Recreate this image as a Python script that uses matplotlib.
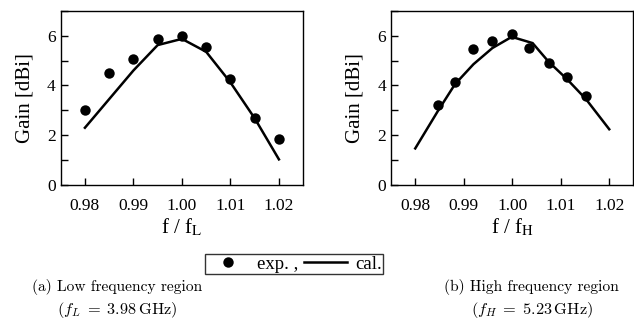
import numpy as np
import matplotlib
matplotlib.use('Agg')
import matplotlib.pyplot as plt
from matplotlib.lines import Line2D
from matplotlib.ticker import MultipleLocator

plt.rcParams['font.family'] = ['Liberation Serif', 'DejaVu Serif']
plt.rcParams['mathtext.fontset'] = 'stix'

# (a) low frequency region
low_exp_x = [0.98, 0.985, 0.99, 0.995, 1.00, 1.005, 1.01, 1.015, 1.02]
low_exp_y = [3.0, 4.5, 5.05, 5.87, 6.0, 5.55, 4.27, 2.71, 1.83]
low_cal_x = [0.98, 0.985, 0.99, 0.995, 1.00, 1.005, 1.01, 1.015, 1.02]
low_cal_y = [2.3, 3.45, 4.6, 5.62, 5.87, 5.35, 4.12, 2.68, 1.03]

# (b) high frequency region
high_exp_x = [0.9846, 0.9882, 0.992, 0.9959, 0.9999, 1.0035, 1.0075, 1.0113, 1.0152]
high_exp_y = [3.2, 4.15, 5.46, 5.8, 6.05, 5.49, 4.91, 4.35, 3.58]
high_cal_x = [0.98, 0.9846, 0.9882, 0.992, 0.9959, 0.9999, 1.0042, 1.0075, 1.0113, 1.0152, 1.02]
high_cal_y = [1.47, 2.95, 4.05, 4.85, 5.5, 5.95, 5.7, 4.95, 4.25, 3.45, 2.24]

xticks = [0.98, 0.99, 1.00, 1.01, 1.02]
xticklabels = ['0.98', '0.99', '1.00', '1.01', '1.02']

fig = plt.figure(figsize=(6.34, 3.33), dpi=100)
ax1 = fig.add_axes([0.0957, 0.4444, 0.3825, 0.5234])
ax2 = fig.add_axes([0.6167, 0.4444, 0.3825, 0.5234])

for ax, ex, ey, cx, cy, sub in [(ax1, low_exp_x, low_exp_y, low_cal_x, low_cal_y, 'L'),
                                (ax2, high_exp_x, high_exp_y, high_cal_x, high_cal_y, 'H')]:
    ax.plot(cx, cy, color='black', lw=1.8, solid_joinstyle='miter')
    ax.plot(ex, ey, 'o', color='black', ms=7.5, mec='none')
    ax.set_xlim(0.975, 1.025)
    ax.set_ylim(0, 7)
    ax.set_xticks(xticks)
    ax.set_xticklabels(xticklabels)
    ax.yaxis.set_major_locator(MultipleLocator(2))
    ax.yaxis.set_minor_locator(MultipleLocator(1))
    ax.tick_params(which='both', direction='in', labelsize=12.5, width=1.0, length=5)
    ax.tick_params(axis='x', pad=9)
    for s in ax.spines.values():
        s.set_linewidth(1.0)
    ax.set_ylabel('Gain [dBi]', fontsize=15, labelpad=9)
    ax.set_xlabel('f / f$_\\mathrm{' + sub + '}$', fontsize=15, labelpad=2)

handles = [Line2D([], [], marker='o', color='black', ls='none', ms=7.5, mec='none'),
           Line2D([], [], color='black', lw=1.8)]
leg = fig.legend(handles, ['exp. ,', 'cal.'], loc='center', bbox_to_anchor=(0.464, 0.206),
                 ncol=2, fontsize=13.5, frameon=True, fancybox=False, edgecolor='black',
                 handlelength=2.3, handletextpad=0.4, columnspacing=0.3,
                 borderpad=0.08, borderaxespad=0)
leg.get_frame().set_linewidth(1.0)

fig.text(0.185, 0.137, '(a) Low frequency region', ha='center', va='center',
         family='cmr10', fontsize=11.2)
fig.text(0.185, 0.068, '$(f_L\\;=\\;3.98\\,\\mathrm{GHz})$', ha='center', va='center',
         math_fontfamily='cm', fontsize=11.8)
fig.text(0.839, 0.137, '(b) High frequency region', ha='center', va='center',
         family='cmr10', fontsize=11.2)
fig.text(0.839, 0.068, '$(f_H\\;=\\;5.23\\,\\mathrm{GHz})$', ha='center', va='center',
         math_fontfamily='cm', fontsize=11.8)

fig.savefig('out.png', dpi=100)
